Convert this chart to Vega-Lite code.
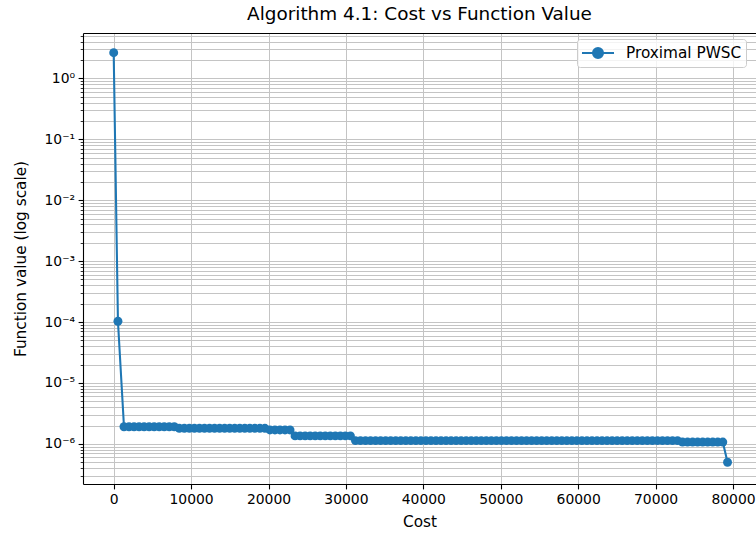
{
  "$schema": "https://vega.github.io/schema/vega-lite/v6.json",
  "width": 673,
  "height": 451,
  "autosize": {"type": "none"},
  "padding": {"left": 83, "top": 33, "right": 0, "bottom": 49},
  "background": "white",
  "title": {"text": "Algorithm 4.1: Cost vs Function Value", "fontSize": 18.4, "fontWeight": "normal", "font": "DejaVu Sans", "color": "black", "offset": 6, "anchor": "middle"},
  "config": {
    "view": {"stroke": null},
    "font": "DejaVu Sans",
    "axis": {
      "labelFont": "DejaVu Sans", "titleFont": "DejaVu Sans",
      "labelFontSize": 13.9, "titleFontSize": 15.3, "titleFontWeight": "normal",
      "labelColor": "black", "titleColor": "black",
      "tickColor": "black", "domainColor": "black", "domainWidth": 1.1,
      "gridColor": "#c4c4c4", "gridWidth": 1,
      "labelFlush": false, "labelOverlap": false
    }
  },
  "data": {"values": [
    {"c":0,"v":2.65},{"c":550,"v":1.03e-4},
    {"c":1330,"v":1.91e-6},{"c":1980,"v":1.91e-6},{"c":2630,"v":1.91e-6},{"c":3280,"v":1.91e-6},{"c":3930,"v":1.91e-6},{"c":4580,"v":1.91e-6},{"c":5230,"v":1.91e-6},{"c":5880,"v":1.91e-6},{"c":6530,"v":1.91e-6},{"c":7180,"v":1.91e-6},{"c":7830,"v":1.91e-6},
    {"c":8480,"v":1.80e-6},{"c":9130,"v":1.80e-6},{"c":9780,"v":1.80e-6},{"c":10430,"v":1.80e-6},{"c":11080,"v":1.80e-6},{"c":11730,"v":1.80e-6},{"c":12380,"v":1.80e-6},{"c":13030,"v":1.80e-6},{"c":13680,"v":1.80e-6},{"c":14330,"v":1.80e-6},{"c":14980,"v":1.80e-6},{"c":15630,"v":1.80e-6},{"c":16280,"v":1.80e-6},{"c":16930,"v":1.80e-6},{"c":17580,"v":1.80e-6},{"c":18230,"v":1.80e-6},{"c":18880,"v":1.80e-6},{"c":19530,"v":1.80e-6},
    {"c":20180,"v":1.69e-6},{"c":20830,"v":1.69e-6},{"c":21480,"v":1.69e-6},{"c":22130,"v":1.69e-6},{"c":22780,"v":1.69e-6},
    {"c":23430,"v":1.35e-6},{"c":24080,"v":1.35e-6},{"c":24730,"v":1.35e-6},{"c":25380,"v":1.35e-6},{"c":26030,"v":1.35e-6},{"c":26680,"v":1.35e-6},{"c":27330,"v":1.35e-6},{"c":27980,"v":1.35e-6},{"c":28630,"v":1.35e-6},{"c":29280,"v":1.35e-6},{"c":29930,"v":1.35e-6},{"c":30580,"v":1.35e-6},
    {"c":31230,"v":1.13e-6},{"c":31880,"v":1.13e-6},{"c":32530,"v":1.13e-6},{"c":33180,"v":1.13e-6},{"c":33830,"v":1.13e-6},{"c":34480,"v":1.13e-6},{"c":35130,"v":1.13e-6},{"c":35780,"v":1.13e-6},{"c":36430,"v":1.13e-6},{"c":37080,"v":1.13e-6},
    {"c":37730,"v":1.13e-6},{"c":38380,"v":1.13e-6},{"c":39030,"v":1.13e-6},{"c":39680,"v":1.13e-6},{"c":40330,"v":1.13e-6},{"c":40980,"v":1.13e-6},{"c":41630,"v":1.13e-6},{"c":42280,"v":1.13e-6},{"c":42930,"v":1.13e-6},{"c":43580,"v":1.13e-6},
    {"c":44230,"v":1.13e-6},{"c":44880,"v":1.13e-6},{"c":45530,"v":1.13e-6},{"c":46180,"v":1.13e-6},{"c":46830,"v":1.13e-6},{"c":47480,"v":1.13e-6},{"c":48130,"v":1.13e-6},{"c":48780,"v":1.13e-6},{"c":49430,"v":1.13e-6},{"c":50080,"v":1.13e-6},
    {"c":50730,"v":1.13e-6},{"c":51380,"v":1.13e-6},{"c":52030,"v":1.13e-6},{"c":52680,"v":1.13e-6},{"c":53330,"v":1.13e-6},{"c":53980,"v":1.13e-6},{"c":54630,"v":1.13e-6},{"c":55280,"v":1.13e-6},{"c":55930,"v":1.13e-6},{"c":56580,"v":1.13e-6},
    {"c":57230,"v":1.13e-6},{"c":57880,"v":1.13e-6},{"c":58530,"v":1.13e-6},{"c":59180,"v":1.13e-6},{"c":59830,"v":1.13e-6},{"c":60480,"v":1.13e-6},{"c":61130,"v":1.13e-6},{"c":61780,"v":1.13e-6},{"c":62430,"v":1.13e-6},{"c":63080,"v":1.13e-6},
    {"c":63730,"v":1.13e-6},{"c":64380,"v":1.13e-6},{"c":65030,"v":1.13e-6},{"c":65680,"v":1.13e-6},{"c":66330,"v":1.13e-6},{"c":66980,"v":1.13e-6},{"c":67630,"v":1.13e-6},{"c":68280,"v":1.13e-6},{"c":68930,"v":1.13e-6},{"c":69580,"v":1.13e-6},
    {"c":70230,"v":1.13e-6},{"c":70880,"v":1.13e-6},{"c":71530,"v":1.13e-6},{"c":72180,"v":1.13e-6},{"c":72830,"v":1.13e-6},
    {"c":73480,"v":1.07e-6},{"c":74130,"v":1.07e-6},{"c":74780,"v":1.07e-6},{"c":75430,"v":1.07e-6},{"c":76080,"v":1.07e-6},{"c":76730,"v":1.07e-6},{"c":77380,"v":1.07e-6},{"c":78030,"v":1.07e-6},{"c":78680,"v":1.07e-6},
    {"c":79290,"v":4.99e-7}
  ]},
  "layer": [
    {
      "mark": {"type": "line", "strokeWidth": 2.08, "point": {"filled": true, "size": 80}},
      "encoding": {
        "x": {"field": "c", "type": "quantitative",
          "scale": {"domain": [-3964, 82968], "nice": false, "zero": false},
          "axis": {"orient": "bottom", "values": [0,10000,20000,30000,40000,50000,60000,70000,80000], "format": "d", "tickSize": 4.9, "tickWidth": 1.1, "labelPadding": 3.5, "grid": true, "title": "Cost", "titlePadding": 8}},
        "y": {"field": "v", "type": "quantitative",
          "scale": {"type": "log", "domain": [2.19e-7, 5.58], "nice": false},
          "axis": {
            "orient": "left",
            "values": [3e-7,4e-7,5e-7,6e-7,7e-7,8e-7,9e-7,1e-6,2e-6,3e-6,4e-6,5e-6,6e-6,7e-6,8e-6,9e-6,1e-5,2e-5,3e-5,4e-5,5e-5,6e-5,7e-5,8e-5,9e-5,1e-4,2e-4,3e-4,4e-4,5e-4,6e-4,7e-4,8e-4,9e-4,1e-3,2e-3,3e-3,4e-3,5e-3,6e-3,7e-3,8e-3,9e-3,1e-2,2e-2,3e-2,4e-2,5e-2,6e-2,7e-2,8e-2,9e-2,0.1,0.2,0.3,0.4,0.5,0.6,0.7,0.8,0.9,1,2,3,4,5],
            "labelExpr": "abs(log(datum.value)/LN10 - round(log(datum.value)/LN10)) < 0.000001 ? ['10⁻⁶','10⁻⁵','10⁻⁴','10⁻³','10⁻²','10⁻¹','10⁰'][round(log(datum.value)/LN10)+6] : ''",
            "tickSize": {"condition": {"test": "abs(log(datum.value)/LN10 - round(log(datum.value)/LN10)) < 0.000001", "value": 4.9}, "value": 2.8},
            "tickWidth": {"condition": {"test": "abs(log(datum.value)/LN10 - round(log(datum.value)/LN10)) < 0.000001", "value": 1.1}, "value": 0.8},
            "labelPadding": 3.5, "grid": true, "title": "Function value (log scale)", "titlePadding": 16}},
        "color": {"datum": "Proximal PWSC", "type": "nominal",
          "scale": {"range": ["#1f77b4"]},
          "legend": {"title": null, "orient": "none", "legendX": 494, "legendY": 6,
            "padding": 4, "cornerRadius": 3, "strokeColor": "#cccccc", "fillColor": "rgba(255,255,255,0.8)",
            "labelFont": "DejaVu Sans", "labelFontSize": 15.3, "labelColor": "black", "labelOffset": 18,
            "symbolSize": 324, "symbolOffset": 7,
            "symbolType": "M-1.78,0L1.78,0M-0.56,0A0.56,0.56,0,1,1,0.56,0A0.56,0.56,0,1,1,-0.56,0Z",
            "encode": {"symbols": {"update": {"fill": {"value": "#1f77b4"}, "stroke": {"value": "#1f77b4"}, "strokeWidth": {"value": 2}, "opacity": {"value": 1}}}}}}
      }
    },
    {
      "mark": {"type": "point", "opacity": 0},
      "encoding": {
        "x": {"field": "c", "type": "quantitative",
          "scale": {"domain": [-3964, 82968], "nice": false, "zero": false},
          "axis": {"orient": "top", "labels": false, "ticks": false, "grid": false, "domain": true, "title": null}}
      }
    }
  ],
  "resolve": {"axis": {"x": "independent"}}
}
